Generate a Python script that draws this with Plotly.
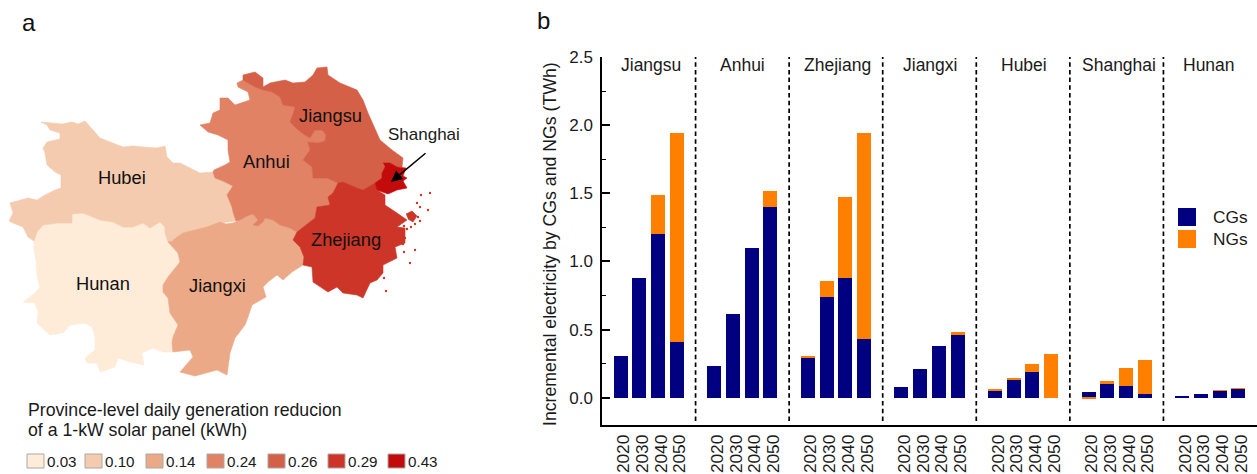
import plotly.graph_objects as go

W, H = 1257, 474

# ---------- panel b data ----------
provinces = ["Jiangsu", "Anhui", "Zhejiang", "Jiangxi", "Hubei", "Shanghai", "Hunan"]
years = ["2020", "2030", "2040", "2050"]
cgs_jiangsu = [0.303, 0.875, 1.205, 0.406]
ngs_jiangsu = [0.0, 0.0, 0.279, 1.540]
cgs_anhui = [0.230, 0.618, 1.100, 1.396]
ngs_anhui = [0.0, 0.0, 0.0, 0.124]
cgs_zhejiang = [0.288, 0.740, 0.875, 0.428]
ngs_zhejiang = [0.015, 0.120, 0.595, 1.518]
cgs_jiangxi = [0.076, 0.208, 0.376, 0.464]
ngs_jiangxi = [0.0, 0.0, 0.0, 0.022]
cgs_hubei = [0.050, 0.134, 0.186, 0.0]
ngs_hubei = [0.008, 0.006, 0.058, 0.318]
cgs_shanghai = [0.039, 0.098, 0.083, 0.024]
ngs_shanghai = [-0.012, 0.022, 0.132, 0.256]
cgs_hunan = [0.015, 0.030, 0.050, 0.065]
ngs_hunan = [0.0, 0.0, 0.002, 0.005]

cgs = cgs_jiangsu + cgs_anhui + cgs_zhejiang + cgs_jiangxi + cgs_hubei + cgs_shanghai + cgs_hunan
ngs = ngs_jiangsu + ngs_anhui + ngs_zhejiang + ngs_jiangxi + ngs_hubei + ngs_shanghai + ngs_hunan

# ---------- panel a data: map outlines ----------
jiangsu_anhui = [(243,80),(247,82),(255,87),(263,90),(272,92),(280,97),(283,105),(295,107),(292,115),(290,122),(298,130),(305,135),(310,138),(315,130),(322,130),(326,135),(325,141),(318,143),(308,142),(310,150),(303,160),(312,167),(313,178),(327,178),(338,183)]
anhui_zhejiang = [(338,183),(333,193),(328,197),(330,205),(317,207),(315,218),(306,225),(297,232)]
jiangxi_anhui = [(173,240),(183,233),(195,230),(207,227),(220,222),(226,224),(233,223),(240,220),(247,216),(253,214),(258,220),(253,225),(258,226),(263,222),(265,218),(273,220),(280,225),(290,228),(297,232)]
hubei_anhui = [(236,221),(233,212),(232,207),(227,195),(233,186),(223,181),(215,178),(213,172)]
hubei_north = [(213,172),(200,173),(190,168),(180,163),(173,163),(167,157),(165,146),(157,148),(143,147),(133,146),(123,147),(110,142),(100,138),(93,130),(85,121),(78,124),(72,122),(62,124),(53,123),(41,122),(47,125),(50,130),(60,133),(60,139),(47,142),(43,148),(45,153),(47,165),(55,172),(61,175),(61,188),(55,190),(45,195),(37,200),(28,198),(20,200),(10,203),(13,213),(9,221),(13,223),(23,227),(28,237),(34,241)]
hubei_jiangxi = [(168,242),(173,241),(192,235),(207,230),(220,223),(236,221)]
hunan_hubei = [(34,241),(37,232),(43,225),(57,223),(72,223),(72,214),(83,213),(100,220),(113,222),(123,227),(133,227),(143,223),(150,228),(160,222),(165,227),(165,233),(168,242)]
hunan_jiangxi = [(168,242),(173,247),(178,253),(180,262),(175,268),(168,277),(163,285),(163,292),(168,298),(170,313),(178,325),(173,337),(172,343),(173,352)]
hunan_south = [(173,352),(163,352),(153,348),(142,353),(144,365),(130,362),(118,358),(115,367),(100,372),(97,363),(87,363),(85,358),(95,350),(95,337),(92,327),(85,323),(70,325),(63,333),(50,335),(37,323),(38,312),(35,303),(23,302),(35,293),(40,287),(37,277),(36,260),(34,250),(34,241)]
jiangxi_zhejiang = [(297,232),(293,240),(300,247),(304,257),(303,265)]
jiangxi_south = [(303,265),(292,272),(283,280),(277,275),(268,282),(263,287),(266,297),(252,305),(248,317),(245,325),(235,338),(230,353),(227,375),(217,370),(195,376),(180,372),(193,357),(190,350),(173,352)]
jiangsu_coast = [(243,80),(243,75),(255,72),(263,78),(263,87),(270,83),(285,80),(293,83),(305,82),(313,75),(317,68),(327,67),(328,75),(340,83),(357,90),(363,100),(368,113),(377,133),(380,140),(392,150),(403,158),(402,167),(397,167),(390,163),(383,163),(385,167),(382,173),(382,178),(375,183)]
jiangsu_zhejiang = [(375,183),(363,190),(357,188),(343,182),(338,183)]
zhejiang_coast = [(375,183),(377,190),(385,195),(385,205),(397,213),(407,220),(397,227),(405,228),(405,243),(395,247),(397,258),(383,265),(383,273),(377,280),(370,283),(363,298),(357,295),(343,293),(337,287),(328,292),(313,282),(312,267),(303,265)]
shanghai_outline = [(383,163),(390,163),(397,167),(406,168),(403,176),(407,178),(403,181),(407,188),(397,190),(388,194),(377,190),(375,183),(382,178),(382,173),(385,167)]
zhoushan_outline = [(406,214),(412,211),(417,216),(413,222),(408,219)]
island_x = [421,430,417,420,428,393,399,403,415,381,384,410,386,394,418,420,415,404,407,411,398,401,405,404]
island_y = [195,193,203,207,210,231,230,244,250,272,278,263,291,245,217,221,224,226,229,227,232,236,238,252]


def chain(*parts):
    out = []
    for p in parts:
        out += p
    return out


rev = lambda p: p[::-1]
outline_hunan = chain(hunan_hubei, hunan_jiangxi, hunan_south)
outline_hubei = chain(hubei_jiangxi, hubei_anhui, hubei_north, hunan_hubei)
outline_jiangxi = chain(jiangxi_anhui, jiangxi_zhejiang, jiangxi_south, rev(hunan_jiangxi), hubei_jiangxi[:2])
outline_anhui = chain(jiangsu_anhui, anhui_zhejiang, rev(jiangxi_anhui)[:12], hubei_anhui, [(214,170),(225,165),(230,162),(228,150),(228,140),(218,135),(208,132),(200,125),(210,123),(213,113),(220,110),(220,98),(228,98),(235,105),(250,100),(248,92),(238,87),(237,83),(243,80)])
outline_jiangsu = chain(jiangsu_coast, jiangsu_zhejiang, rev(jiangsu_anhui))
outline_zhejiang = chain(rev(jiangsu_zhejiang), zhejiang_coast, rev(jiangxi_zhejiang), rev(anhui_zhejiang))

map_regions = [
    ("Hunan", outline_hunan, "#FEEBD8"),
    ("Hubei", outline_hubei, "#F4CBAE"),
    ("Jiangxi", outline_jiangxi, "#EBA987"),
    ("Anhui", outline_anhui, "#E18265"),
    ("Jiangsu", outline_jiangsu, "#D56048"),
    ("Zhejiang", outline_zhejiang, "#CC3527"),
    ("Shanghai", shanghai_outline, "#C40B0B"),
    ("Zhoushan", zhoushan_outline, "#CC3527"),
]
map_labels = [("Hubei",122,177),("Hunan",103,283),("Jiangxi",217,285),("Anhui",266,161),("Jiangsu",330,115),("Zhejiang",346,239)]
key_values = ["0.03","0.10","0.14","0.24","0.26","0.29","0.43"]
key_colors = ["#FEEBD8","#F4CBAE","#EBA987","#E18265","#D56048","#CC3527","#C40B0B"]
key_box_x = [27,85,146,207,268,328,388]

FONT = "Liberation Sans"
TXT = "#1a1a1a"

fig = go.Figure()

# map (separate axes in picture units)
for name, pts, col in map_regions:
    fig.add_trace(go.Scatter(x=[p[0] for p in pts], y=[p[1] for p in pts], mode="lines", fill="toself",
                             fillcolor=col, line=dict(color=col, width=0.6), hoverinfo="skip",
                             showlegend=False, xaxis="x2", yaxis="y2", name=name))
fig.add_trace(go.Scatter(x=island_x, y=island_y, mode="markers", marker=dict(color="#CC3527", size=2.4, line_width=0),
                         hoverinfo="skip", showlegend=False, xaxis="x2", yaxis="y2"))

# bars
xpos = []
for g in range(len(provinces)):
    xpos += [g * 5 + i for i in range(len(years))]
fig.add_trace(go.Bar(x=xpos, y=cgs, name="CGs", marker=dict(color="#000080", line_width=0), width=0.75, showlegend=False))
fig.add_trace(go.Bar(x=xpos, y=ngs, name="NGs", marker=dict(color="#FF8000", line_width=0), width=0.75, showlegend=False))

# dashed separators
sx, sy = [], []
for g in range(1, len(provinces)):
    sx += [g * 5 - 1, g * 5 - 1, None]
    sy += [-0.17, 2.525, None]
fig.add_trace(go.Scatter(x=sx, y=sy, mode="lines", line=dict(color="black", width=1.7, dash="4.5px,3.2px"),
                         hoverinfo="skip", showlegend=False, cliponaxis=False))

shapes = []
ann = []


def text(s, x, y, size, anchor="center", color=TXT, angle=0):
    ann.append(dict(text=s, x=x, y=y, xref="x2", yref="y2", showarrow=False, xanchor=anchor, yanchor="middle",
                    borderpad=0, borderwidth=0, font=dict(family=FONT, size=size, color=color), textangle=angle))


text("a", 29, 22, 24, color="#111111")
text("b", 543, 20, 24, color="#111111")
for n, x, y in map_labels:
    text(n, x, y, 18.3, color="#111111")
text("Shanghai", 424, 134, 17)
text("Province-level daily generation reducion", 28, 410, 17.7, "left")
text("of a 1-kW solar panel (kWh)", 28, 430, 17.7, "left")
for v, c, bx in zip(key_values, key_colors, key_box_x):
    shapes.append(dict(type="rect", xref="x2", yref="y2", x0=bx, x1=bx + 17, y0=454, y1=468, fillcolor=c,
                       line=dict(color="#A8A8A8", width=1)))
    text(v, bx + 20, 461, 15.2, "left")

ann.append(dict(x=391, y=182, ax=427, ay=152, xref="x2", yref="y2", axref="x2", ayref="y2", text="", showarrow=True,
                arrowhead=2, arrowsize=1.5, arrowwidth=1.5, arrowcolor="black"))

# panel b texts
label_x = [650.7, 742.7, 837, 930, 1024, 1119, 1209]
for n, x in zip(provinces, label_x):
    text(n, x, 65, 17.5)
text("Incremental electricity by CGs and NGs (TWh)", 550, 244, 17.7, angle=-90)
for lab, c, y0 in [("CGs", "#000080", 208), ("NGs", "#FF8000", 230)]:
    shapes.append(dict(type="rect", xref="x2", yref="y2", x0=1178, x1=1196, y0=y0, y1=y0 + 18, fillcolor=c, line_width=0))
    text(lab, 1213, y0 + 9, 17.3, "left")

fig.update_layout(
    width=W, height=H, autosize=False, margin=dict(l=0, r=0, t=0, b=0, pad=0),
    paper_bgcolor="white", plot_bgcolor="rgba(0,0,0,0)", barmode="relative", bargap=0,
    shapes=shapes, annotations=ann, showlegend=False,
    xaxis=dict(domain=[602 / W, 1], range=[-1, 34], anchor="y", tickmode="array", tickvals=[p + 0.16 for p in xpos],
               ticktext=years * len(provinces), tickangle=-90, ticks="", showgrid=False, zeroline=False,
               showline=True, linecolor="black", linewidth=1.5, automargin=False,
               tickfont=dict(family=FONT, size=17.3, color=TXT), ticklabelstandoff=1),
    yaxis=dict(domain=[1 - 425 / H, 1 - 57 / H], range=[-0.2, 2.5], anchor="x", tickmode="array",
               tickvals=[0, 0.5, 1, 1.5, 2, 2.5], ticktext=["0.0", "0.5", "1.0", "1.5", "2.0", "2.5"],
               ticks="inside", ticklen=8, tickwidth=1.5, tickcolor="black", showgrid=False, zeroline=False,
               showline=True, linecolor="black", linewidth=1.5, automargin=False,
               minor=dict(tickvals=[0.25, 0.75, 1.25, 1.75, 2.25], ticks="inside", ticklen=4, tickwidth=1.2, tickcolor="black", showgrid=False),
               tickfont=dict(family=FONT, size=17, color=TXT), ticklabelstandoff=4),
    xaxis2=dict(domain=[0, 1], range=[0, W], visible=False, anchor="y2", fixedrange=True),
    yaxis2=dict(domain=[0, 1], range=[H, 0], visible=False, anchor="x2", fixedrange=True),
)

fig.write_html("out.html", config=dict(displayModeBar=False),
               post_script="document.body.style.margin='0';document.documentElement.style.overflow='hidden';")
